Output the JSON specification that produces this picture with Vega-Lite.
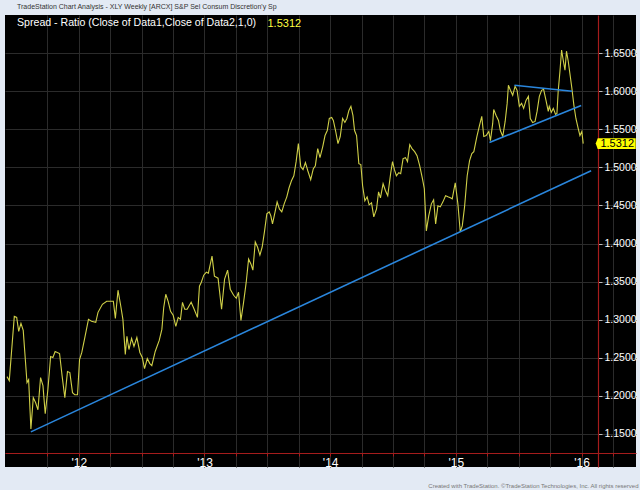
{
  "$schema": "https://vega.github.io/schema/vega-lite/v6.json",
  "autosize": {"type": "fit", "contains": "padding"},
  "width": 640,
  "height": 490,
  "padding": {"top": 3, "left": 4, "right": 3, "bottom": 2},
  "background": "#e3eaf4",
  "title": {
    "text": "TradeStation Chart Analysis - XLY Weekly [ARCX] S&P Sel Consum Discretion'y Sp",
    "subtitle": "Spread - Ratio (Close of Data1,Close of Data2,1,0)",
    "anchor": "start",
    "frame": "group",
    "orient": "top",
    "font": "Liberation Sans",
    "fontSize": 7,
    "fontWeight": "normal",
    "color": "#333333",
    "subtitleFont": "Liberation Sans",
    "subtitleFontSize": 10.6,
    "subtitleColor": "#ffffff",
    "subtitlePadding": 8,
    "offset": -14,
    "dx": 12
  },
  "config": {
    "view": {"fill": "#000000", "stroke": null}
  },
  "datasets": {
    "spread": [
      {"t": 2011.429, "v": 1.2252}, {"t": 2011.447, "v": 1.2199}, {"t": 2011.487, "v": 1.3043}, {"t": 2011.506, "v": 1.3030},
      {"t": 2011.522, "v": 1.2846}, {"t": 2011.540, "v": 1.2951}, {"t": 2011.558, "v": 1.2859}, {"t": 2011.588, "v": 1.2173},
      {"t": 2011.601, "v": 1.2212}, {"t": 2011.619, "v": 1.1566}, {"t": 2011.638, "v": 1.1975}, {"t": 2011.657, "v": 1.1909},
      {"t": 2011.675, "v": 1.1816}, {"t": 2011.696, "v": 1.2239}, {"t": 2011.715, "v": 1.2133}, {"t": 2011.733, "v": 1.1764},
      {"t": 2011.754, "v": 1.2080}, {"t": 2011.776, "v": 1.2516}, {"t": 2011.794, "v": 1.2503}, {"t": 2011.812, "v": 1.2582},
      {"t": 2011.847, "v": 1.2555}, {"t": 2011.868, "v": 1.2252}, {"t": 2011.889, "v": 1.1975}, {"t": 2011.910, "v": 1.2318},
      {"t": 2011.929, "v": 1.2305}, {"t": 2011.950, "v": 1.2041}, {"t": 2011.968, "v": 1.2014}, {"t": 2011.990, "v": 1.2014},
      {"t": 2012.006, "v": 1.2476}, {"t": 2012.024, "v": 1.2569}, {"t": 2012.050, "v": 1.2780}, {"t": 2012.077, "v": 1.3004},
      {"t": 2012.101, "v": 1.2978}, {"t": 2012.135, "v": 1.2964}, {"t": 2012.153, "v": 1.3096}, {"t": 2012.188, "v": 1.3202},
      {"t": 2012.222, "v": 1.3241}, {"t": 2012.238, "v": 1.3241}, {"t": 2012.275, "v": 1.3241}, {"t": 2012.291, "v": 1.3017},
      {"t": 2012.312, "v": 1.3387}, {"t": 2012.333, "v": 1.3189}, {"t": 2012.351, "v": 1.3004}, {"t": 2012.370, "v": 1.2542},
      {"t": 2012.383, "v": 1.2780}, {"t": 2012.399, "v": 1.2608}, {"t": 2012.420, "v": 1.2753}, {"t": 2012.439, "v": 1.2648},
      {"t": 2012.462, "v": 1.2766}, {"t": 2012.486, "v": 1.2569}, {"t": 2012.505, "v": 1.2503}, {"t": 2012.523, "v": 1.2357},
      {"t": 2012.545, "v": 1.2489}, {"t": 2012.565, "v": 1.2423}, {"t": 2012.581, "v": 1.2397}, {"t": 2012.608, "v": 1.2582},
      {"t": 2012.640, "v": 1.2727}, {"t": 2012.661, "v": 1.2872}, {"t": 2012.676, "v": 1.3162}, {"t": 2012.692, "v": 1.3334},
      {"t": 2012.711, "v": 1.3241}, {"t": 2012.730, "v": 1.3109}, {"t": 2012.751, "v": 1.3057}, {"t": 2012.772, "v": 1.2912},
      {"t": 2012.791, "v": 1.3030}, {"t": 2012.809, "v": 1.3004}, {"t": 2012.825, "v": 1.3228}, {"t": 2012.843, "v": 1.3136},
      {"t": 2012.862, "v": 1.3136}, {"t": 2012.894, "v": 1.3228}, {"t": 2012.918, "v": 1.3136}, {"t": 2012.944, "v": 1.3030},
      {"t": 2012.960, "v": 1.3439}, {"t": 2012.975, "v": 1.3492}, {"t": 2012.994, "v": 1.3584}, {"t": 2013.015, "v": 1.3624},
      {"t": 2013.031, "v": 1.3611}, {"t": 2013.060, "v": 1.3835}, {"t": 2013.079, "v": 1.3571}, {"t": 2013.108, "v": 1.3545},
      {"t": 2013.136, "v": 1.3136}, {"t": 2013.160, "v": 1.3532}, {"t": 2013.184, "v": 1.3650}, {"t": 2013.205, "v": 1.3400},
      {"t": 2013.232, "v": 1.3320}, {"t": 2013.253, "v": 1.3281}, {"t": 2013.271, "v": 1.3360}, {"t": 2013.290, "v": 1.2991},
      {"t": 2013.311, "v": 1.3228}, {"t": 2013.332, "v": 1.3492}, {"t": 2013.351, "v": 1.3795}, {"t": 2013.370, "v": 1.3729},
      {"t": 2013.385, "v": 1.3650}, {"t": 2013.404, "v": 1.4020}, {"t": 2013.422, "v": 1.3954}, {"t": 2013.441, "v": 1.3848},
      {"t": 2013.459, "v": 1.3954}, {"t": 2013.477, "v": 1.4152}, {"t": 2013.496, "v": 1.4389}, {"t": 2013.515, "v": 1.4416},
      {"t": 2013.528, "v": 1.4363}, {"t": 2013.541, "v": 1.4257}, {"t": 2013.560, "v": 1.4402}, {"t": 2013.578, "v": 1.4547},
      {"t": 2013.596, "v": 1.4455}, {"t": 2013.615, "v": 1.4416}, {"t": 2013.634, "v": 1.4521}, {"t": 2013.655, "v": 1.4613},
      {"t": 2013.673, "v": 1.4732}, {"t": 2013.692, "v": 1.4824}, {"t": 2013.711, "v": 1.4890}, {"t": 2013.729, "v": 1.5075},
      {"t": 2013.747, "v": 1.5313}, {"t": 2013.766, "v": 1.5009}, {"t": 2013.784, "v": 1.4970}, {"t": 2013.803, "v": 1.5062},
      {"t": 2013.822, "v": 1.4956}, {"t": 2013.845, "v": 1.4838}, {"t": 2013.866, "v": 1.4983}, {"t": 2013.882, "v": 1.5022},
      {"t": 2013.901, "v": 1.5247}, {"t": 2013.919, "v": 1.5128}, {"t": 2013.941, "v": 1.5273}, {"t": 2013.959, "v": 1.5418},
      {"t": 2013.977, "v": 1.5484}, {"t": 2013.993, "v": 1.5642}, {"t": 2014.012, "v": 1.5656}, {"t": 2014.025, "v": 1.5616},
      {"t": 2014.044, "v": 1.5471}, {"t": 2014.062, "v": 1.5313}, {"t": 2014.080, "v": 1.5405}, {"t": 2014.099, "v": 1.5642},
      {"t": 2014.117, "v": 1.5590}, {"t": 2014.133, "v": 1.5642}, {"t": 2014.149, "v": 1.5748}, {"t": 2014.165, "v": 1.5801},
      {"t": 2014.181, "v": 1.5682}, {"t": 2014.194, "v": 1.5484}, {"t": 2014.210, "v": 1.5418}, {"t": 2014.228, "v": 1.5049},
      {"t": 2014.244, "v": 1.5036}, {"t": 2014.258, "v": 1.4759}, {"t": 2014.276, "v": 1.4561}, {"t": 2014.294, "v": 1.4613},
      {"t": 2014.310, "v": 1.4508}, {"t": 2014.329, "v": 1.4534}, {"t": 2014.347, "v": 1.4350}, {"t": 2014.369, "v": 1.4455},
      {"t": 2014.385, "v": 1.4679}, {"t": 2014.400, "v": 1.4600}, {"t": 2014.421, "v": 1.4785}, {"t": 2014.440, "v": 1.4693},
      {"t": 2014.458, "v": 1.4627}, {"t": 2014.482, "v": 1.4930}, {"t": 2014.496, "v": 1.5075}, {"t": 2014.511, "v": 1.4970},
      {"t": 2014.527, "v": 1.4890}, {"t": 2014.546, "v": 1.4930}, {"t": 2014.561, "v": 1.4917}, {"t": 2014.580, "v": 1.5115},
      {"t": 2014.599, "v": 1.5128}, {"t": 2014.615, "v": 1.5075}, {"t": 2014.633, "v": 1.5299}, {"t": 2014.651, "v": 1.5247},
      {"t": 2014.672, "v": 1.5207}, {"t": 2014.691, "v": 1.5154}, {"t": 2014.712, "v": 1.5022}, {"t": 2014.734, "v": 1.4851},
      {"t": 2014.749, "v": 1.4719}, {"t": 2014.765, "v": 1.4165}, {"t": 2014.784, "v": 1.4363}, {"t": 2014.805, "v": 1.4521},
      {"t": 2014.823, "v": 1.4574}, {"t": 2014.839, "v": 1.4257}, {"t": 2014.857, "v": 1.4495}, {"t": 2014.876, "v": 1.4481},
      {"t": 2014.897, "v": 1.4547}, {"t": 2014.918, "v": 1.4627}, {"t": 2014.937, "v": 1.4613}, {"t": 2014.956, "v": 1.4600},
      {"t": 2014.971, "v": 1.4587}, {"t": 2014.995, "v": 1.4798}, {"t": 2015.016, "v": 1.4521}, {"t": 2015.035, "v": 1.4152},
      {"t": 2015.051, "v": 1.4231}, {"t": 2015.069, "v": 1.4481}, {"t": 2015.090, "v": 1.4890}, {"t": 2015.109, "v": 1.5088},
      {"t": 2015.127, "v": 1.5181}, {"t": 2015.143, "v": 1.5207}, {"t": 2015.167, "v": 1.5405}, {"t": 2015.188, "v": 1.5550},
      {"t": 2015.206, "v": 1.5669}, {"t": 2015.222, "v": 1.5405}, {"t": 2015.241, "v": 1.5418}, {"t": 2015.262, "v": 1.5471},
      {"t": 2015.275, "v": 1.5352}, {"t": 2015.293, "v": 1.5577}, {"t": 2015.301, "v": 1.5761}, {"t": 2015.320, "v": 1.5682},
      {"t": 2015.339, "v": 1.5616}, {"t": 2015.354, "v": 1.5484}, {"t": 2015.373, "v": 1.5405}, {"t": 2015.392, "v": 1.5603},
      {"t": 2015.408, "v": 1.5840}, {"t": 2015.418, "v": 1.6078}, {"t": 2015.434, "v": 1.6012}, {"t": 2015.452, "v": 1.5946},
      {"t": 2015.471, "v": 1.6065}, {"t": 2015.487, "v": 1.6012}, {"t": 2015.505, "v": 1.5801}, {"t": 2015.523, "v": 1.5840},
      {"t": 2015.539, "v": 1.5774}, {"t": 2015.558, "v": 1.5880}, {"t": 2015.577, "v": 1.5933}, {"t": 2015.592, "v": 1.5642},
      {"t": 2015.611, "v": 1.5590}, {"t": 2015.630, "v": 1.5603}, {"t": 2015.646, "v": 1.5735}, {"t": 2015.664, "v": 1.5933},
      {"t": 2015.682, "v": 1.6012}, {"t": 2015.698, "v": 1.6025}, {"t": 2015.717, "v": 1.5880}, {"t": 2015.735, "v": 1.5735},
      {"t": 2015.743, "v": 1.5801}, {"t": 2015.759, "v": 1.5722}, {"t": 2015.775, "v": 1.5774}, {"t": 2015.793, "v": 1.5695},
      {"t": 2015.804, "v": 1.5708}, {"t": 2015.814, "v": 1.5999}, {"t": 2015.828, "v": 1.6263}, {"t": 2015.841, "v": 1.6540},
      {"t": 2015.854, "v": 1.6408}, {"t": 2015.868, "v": 1.6276}, {"t": 2015.880, "v": 1.6526}, {"t": 2015.894, "v": 1.6394},
      {"t": 2015.910, "v": 1.6197}, {"t": 2015.923, "v": 1.6038}, {"t": 2015.939, "v": 1.5814}, {"t": 2015.955, "v": 1.5642},
      {"t": 2015.973, "v": 1.5511}, {"t": 2015.987, "v": 1.5418}, {"t": 2016.002, "v": 1.5471}, {"t": 2016.013, "v": 1.5312}
    ],
    "trend": [
      {"seg": "support", "t": 2011.619, "v": 1.1526},
      {"seg": "support", "t": 2016.076, "v": 1.4956},
      {"seg": "upper", "t": 2015.466, "v": 1.6078},
      {"seg": "upper", "t": 2015.925, "v": 1.5999},
      {"seg": "lower", "t": 2015.267, "v": 1.5326},
      {"seg": "lower", "t": 2015.997, "v": 1.5814}
    ]
  },
  "encoding": {
    "x": {
      "field": "t",
      "type": "quantitative",
      "scale": {"domain": [2011.413, 2016.433], "nice": false, "zero": false},
      "axis": {
        "orient": "bottom",
        "offset": -14,
        "values": [2011.75, 2012, 2012.25, 2012.5, 2012.75, 2013, 2013.25, 2013.5, 2013.75, 2014, 2014.25, 2014.5, 2014.75, 2015, 2015.25, 2015.5, 2015.75, 2016, 2016.25],
        "labelExpr": "datum.value % 1 == 0 ? \"'\" + (datum.value - 2000) : ''",
        "labelOverlap": false,
        "labelColor": "#ffffff",
        "labelFont": "Liberation Sans",
        "labelFontSize": 12,
        "labelPadding": 1,
        "domainColor": "#a51c1c",
        "domainWidth": 1.2,
        "tickColor": "#a51c1c",
        "tickSize": 3,
        "grid": true,
        "gridColor": "#2b2b2b",
        "title": "Created with TradeStation. \u00a9TradeStation Technologies, Inc. All rights reserved",
        "titleFont": "Liberation Sans",
        "titleFontSize": 6,
        "titleFontWeight": "normal",
        "titleColor": "#777777",
        "titleAlign": "right",
        "titleBaseline": "middle",
        "titleAnchor": "end",
        "titleX": 633,
        "titleY": 32
      }
    },
    "y": {
      "field": "v",
      "type": "quantitative",
      "scale": {"domain": [1.1065, 1.7001], "nice": false, "zero": false},
      "axis": {
        "orient": "right",
        "offset": -38,
        "values": [1.15, 1.2, 1.25, 1.3, 1.35, 1.4, 1.45, 1.5, 1.55, 1.6, 1.65],
        "format": ".4f",
        "labelColor": "#ffffff",
        "labelFont": "Liberation Sans",
        "labelFontSize": 10.5,
        "labelPadding": 2,
        "domainColor": "#a51c1c",
        "domainWidth": 1.2,
        "tickColor": "#bbbbbb",
        "tickSize": 4,
        "grid": true,
        "gridColor": "#2b2b2b",
        "title": "1.5312",
        "titleFont": "Liberation Sans",
        "titleFontSize": 11,
        "titleFontWeight": "normal",
        "titleColor": "#ffff40",
        "titleAngle": 0,
        "titleAlign": "left",
        "titleBaseline": "middle",
        "titleX": -331,
        "titleY": 8
      }
    }
  },
  "layer": [
    {
      "data": {"name": "spread"},
      "mark": {"type": "line", "color": "#d0d048", "strokeWidth": 1.1}
    },
    {
      "data": {"name": "trend"},
      "mark": {"type": "line", "color": "#2a86dc", "strokeWidth": 1.6},
      "encoding": {"detail": {"field": "seg", "type": "nominal"}}
    },
    {
      "data": {"name": "spread"},
      "transform": [
        {"joinaggregate": [{"op": "max", "field": "t", "as": "tmax"}]},
        {"filter": "datum.t === datum.tmax"}
      ],
      "mark": {
        "type": "point",
        "shape": "M-1,0L-0.9,-0.27L1,-0.27L1,0.27L-0.9,0.27Z",
        "size": 1600,
        "filled": true,
        "color": "#ffff00",
        "opacity": 1,
        "xOffset": 32.5
      }
    },
    {
      "data": {"name": "spread"},
      "transform": [
        {"joinaggregate": [{"op": "max", "field": "t", "as": "tmax"}]},
        {"filter": "datum.t === datum.tmax"}
      ],
      "mark": {"type": "text", "color": "#000000", "font": "Liberation Sans", "fontSize": 11, "align": "center", "baseline": "middle", "dx": 34},
      "encoding": {"text": {"field": "v", "type": "quantitative", "format": ".4f"}}
    }
  ]
}
